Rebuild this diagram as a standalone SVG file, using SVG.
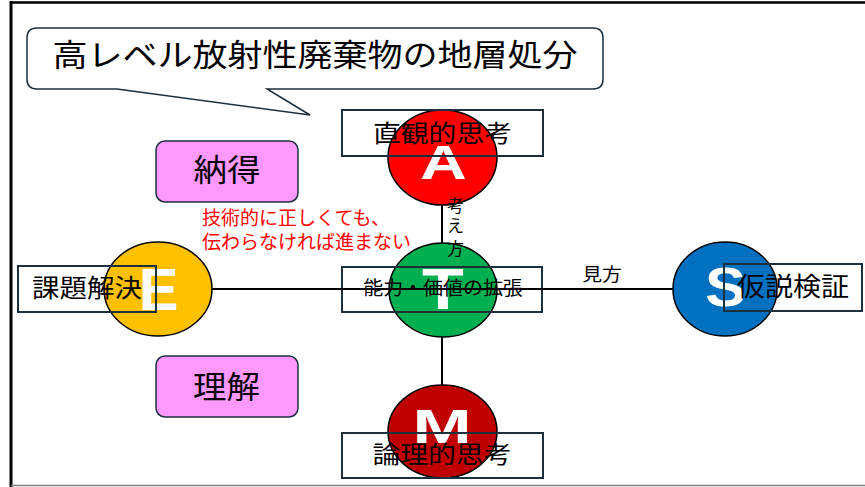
<svg xmlns="http://www.w3.org/2000/svg" width="865" height="487" viewBox="0 0 865 487">
<style>
.jp{font-family:"Noto Sans CJK JP","Noto Sans CJK SC",sans-serif;fill:#000;text-anchor:middle}
.lbl{font-size:24px}
.big{font-family:"Liberation Sans",Arial,sans-serif;font-weight:bold;fill:#fff;text-anchor:middle}
.circ{stroke:#000;stroke-width:1.5}
.box{fill:none;stroke:#1C2F3D;stroke-width:2}
.pink{fill:#FF99FF;stroke:#1C2F3D;stroke-width:1.5}
.conn{stroke:#000;stroke-width:2;fill:none}
.red{font-family:"Noto Sans CJK JP","Noto Sans CJK SC",sans-serif;font-size:19px;fill:#FF0000}
</style>
<rect x="0" y="0" width="865" height="487" fill="#fff"/>
<g id="frame">
<line x1="10" y1="2.5" x2="865" y2="2.5" stroke="#000" stroke-width="2.5"/>
<line x1="11" y1="1" x2="11" y2="487" stroke="#000" stroke-width="3"/>
<line x1="11" y1="485.5" x2="865" y2="485.5" stroke="#808080" stroke-width="1.5"/>
</g>
<g id="callout">
<path d="M37,28 H593 Q603,28 603,38 V79 Q603,89 593,89 H267 L310,115 L117,89 H37 Q27,89 27,79 V38 Q27,28 37,28 Z" fill="#fff" stroke="#1C2F3D" stroke-width="1.5"/>
<text class="jp" font-size="31" transform="translate(315,66) scale(1.13,1)">高レベル放射性廃棄物の地層処分</text>
</g>
<g id="node-A">
<ellipse class="circ" cx="442.5" cy="157.5" rx="54.5" ry="47.5" fill="#FF0000"/>
<text class="big" font-size="48" transform="translate(443.5,179) scale(1.35,1)">A</text>
<rect class="box" x="342" y="110" width="201" height="46"/>
<text class="jp lbl" transform="translate(442.5,142) scale(1.16,1)">直観的思考</text>
</g>
<g id="node-E">
<ellipse class="circ" cx="158" cy="289" rx="54" ry="47" fill="#FFC000"/>
<text class="big" font-size="60" transform="translate(158.5,310)">E</text>
<rect class="box" x="18" y="266" width="138" height="46"/>
<text class="jp" font-size="25" transform="translate(87,296.5) scale(1.1,1)">課題解決</text>
</g>
<g id="node-S">
<ellipse class="circ" cx="725" cy="289" rx="52" ry="47" fill="#0070C0"/>
<text class="big" font-size="56" transform="translate(725.5,306) scale(1.1,1)">S</text>
<rect class="box" x="724" y="264" width="138" height="47"/>
<text class="jp" font-size="26" transform="translate(793,296) scale(1.08,1)">仮説検証</text>
</g>
<g id="node-M">
<ellipse class="circ" cx="442.5" cy="431.5" rx="54.5" ry="46.5" fill="#C00000"/>
<text class="big" font-size="49" transform="translate(442,443) scale(1.45,1)">M</text>
<rect class="box" x="342" y="433" width="201" height="45"/>
<text class="jp lbl" transform="translate(442,463) scale(1.16,1)">論理的思考</text>
</g>
<g id="node-T">
<ellipse class="circ" cx="443" cy="290" rx="54" ry="47" fill="#00B050"/>
<text class="big" font-size="57" transform="translate(443,309) scale(1.2,1)">T</text>
<rect class="box" x="342" y="267" width="200" height="45"/>
<text class="jp" font-size="19" transform="translate(443,295) scale(1.05,1)">能力・価値の拡張</text>
</g>
<g id="node-nattoku">
<rect class="pink" x="156" y="141" width="142" height="61" rx="9"/>
<text class="jp" font-size="31" transform="translate(227,181) scale(1.08,1)">納得</text>
</g>
<g id="node-rikai">
<rect class="pink" x="156" y="356" width="142" height="61" rx="9"/>
<text class="jp" font-size="31" transform="translate(226.5,398) scale(1.08,1)">理解</text>
</g>
<g id="note">
<text class="red" x="202" y="224.5">技術的に正しくても、</text>
<text class="red" x="202" y="249">伝わらなければ進まない</text>
</g>
<g id="connectors">
<line class="conn" x1="442" y1="205" x2="442" y2="243"/>
<line class="conn" x1="442" y1="337" x2="442" y2="385"/>
<line class="conn" x1="212" y1="289" x2="673" y2="289"/>
<text class="jp" font-size="17" x="455.5" y="212">考</text>
<text class="jp" font-size="17" x="455.5" y="231.5">え</text>
<text class="jp" font-size="17" x="455.5" y="255">方</text>
<text class="jp" font-size="18" transform="translate(602,281) scale(1.1,1)">見方</text>
</g>
</svg>
